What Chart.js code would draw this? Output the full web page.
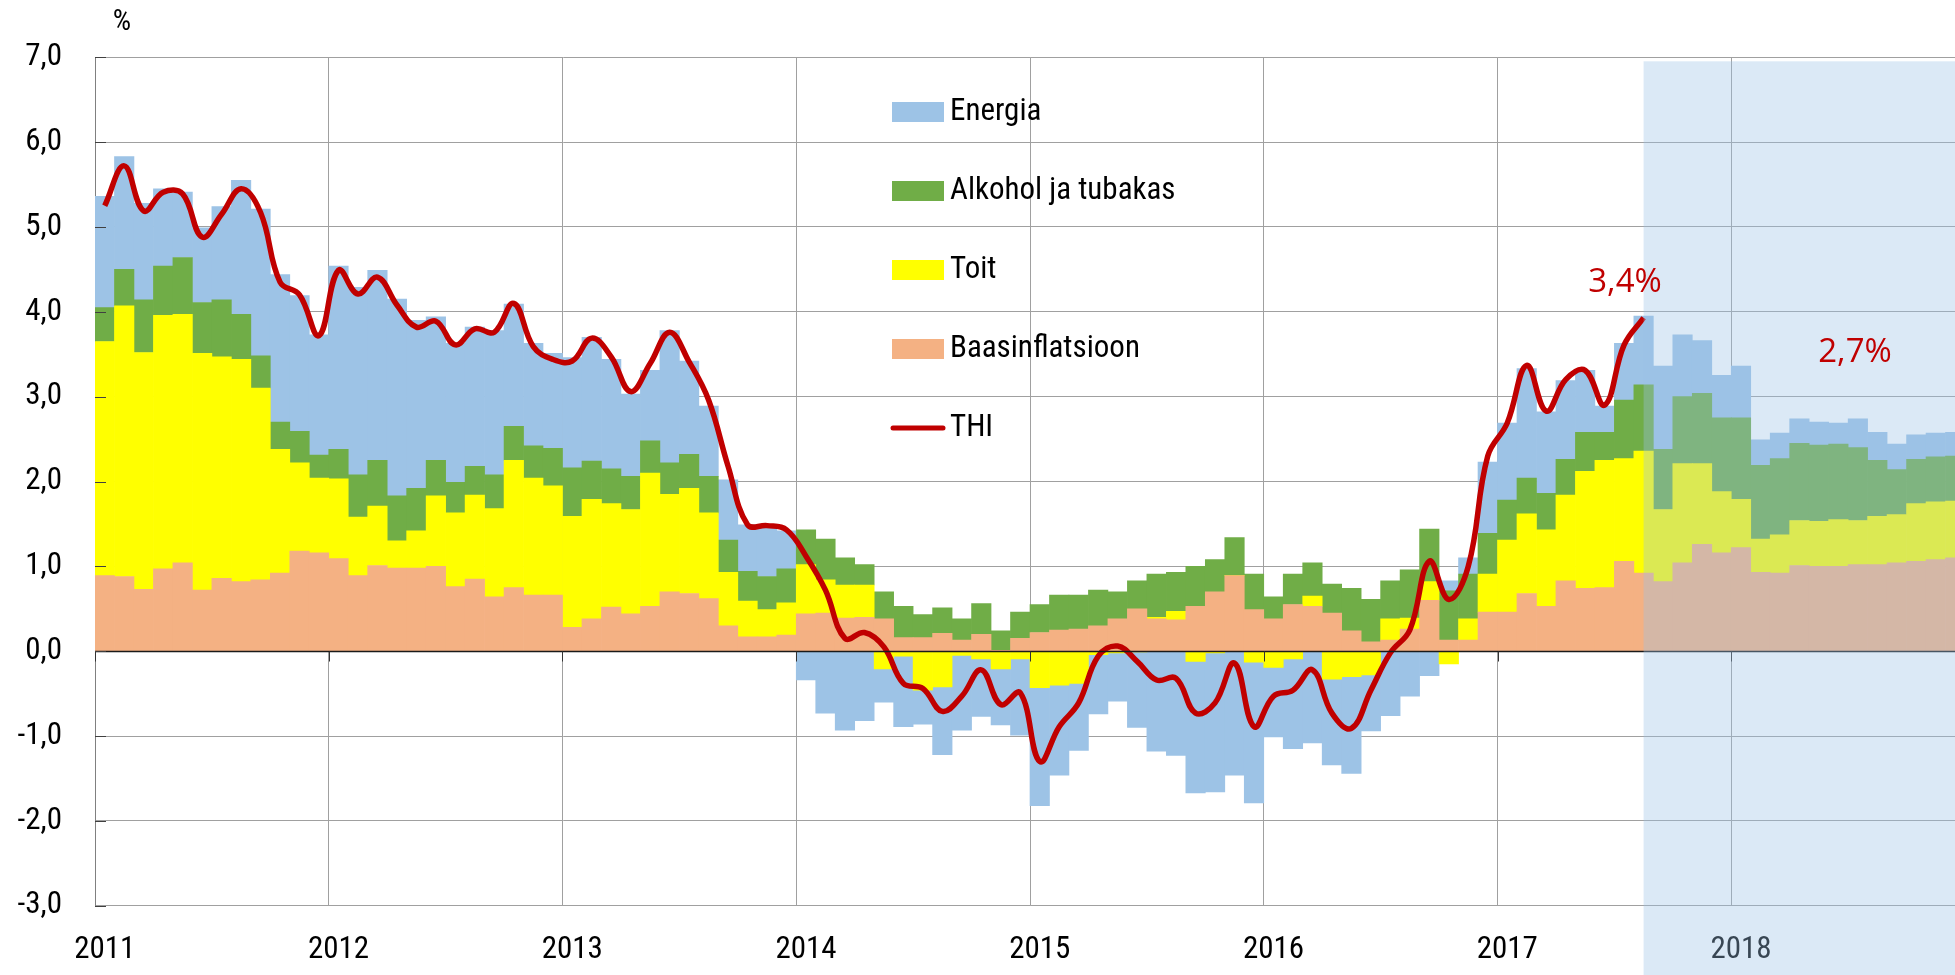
<!DOCTYPE html>
<html>
<head>
<meta charset="utf-8">
<script src="https://cdn.jsdelivr.net/npm/chart.js@4.4.1/dist/chart.umd.min.js"></script>
<style>
html{margin:0;padding:0;overflow:hidden;background:#fff;width:1955px;height:975px}
body{margin:0;padding:0;background:#fff;width:1965px;height:975px;overflow:visible}
#wrap{width:1965px;height:975px;position:relative}
canvas{display:block;width:1965px;height:975px}
</style>
</head>
<body>
<div id="wrap"><canvas id="c" width="1965" height="975" style="width:1965px;height:975px"></canvas></div>
<script>
// ---------- data ----------
const monthNames = ['Jan','Feb','Mar','Apr','May','Jun','Jul','Aug','Sep','Oct','Nov','Dec'];
const years = ['2011','2012','2013','2014','2015','2016','2017','2018'];
const yTickLabels = ['-3,0','-2,0','-1,0','0,0','1,0','2,0','3,0','4,0','5,0','6,0','7,0'];
const seriesNames = ['Energia','Alkohol ja tubakas','Toit','Baasinflatsioon','THI'];
const unitLabel = '%';
const annotationTexts = ['3,4%','2,7%'];

const energia = [
  1.31,1.33,1.14,0.91,0.77,0.88,1.10,1.58,1.73,1.74,1.60,1.42,
  2.16,2.21,2.24,2.32,1.98,1.69,1.64,1.64,1.70,1.44,1.21,1.12,
  1.30,1.46,1.29,0.97,0.83,1.56,1.10,0.83,0.71,0.55,0.61,0.45,
  -0.34,-0.73,-0.93,-0.82,-0.39,-0.83,-0.40,-0.80,-0.88,-0.68,-0.66,-0.90,
  -1.39,-1.06,-0.79,-0.70,-0.57,-0.89,-1.18,-1.23,-1.55,-1.64,-1.46,-1.66,
  -0.82,-1.06,-1.08,-1.01,-1.14,-0.66,-0.76,-0.53,-0.29,0.12,0.19,0.84,
  0.91,1.29,0.96,0.93,0.73,0.31,0.67,0.81,0.98,0.73,0.62,0.50,
  0.61,0.30,0.30,0.29,0.27,0.25,0.34,0.33,0.30,0.29,0.28,0.28
];
const alkohol = [
  0.40,0.43,0.62,0.58,0.67,0.60,0.67,0.53,0.38,0.32,0.37,0.27,
  0.35,0.50,0.54,0.53,0.50,0.42,0.36,0.34,0.40,0.40,0.38,0.44,
  0.57,0.45,0.41,0.39,0.38,0.37,0.40,0.43,0.38,0.35,0.39,0.40,
  0.41,0.48,0.32,0.24,0.32,0.37,0.27,0.30,0.25,0.36,0.23,0.31,
  0.33,0.41,0.40,0.42,0.32,0.33,0.51,0.46,0.47,0.38,0.45,0.42,
  0.26,0.36,0.39,0.34,0.50,0.50,0.45,0.57,0.62,0.58,0.53,0.48,
  0.47,0.42,0.43,0.42,0.46,0.33,0.69,0.78,0.71,0.79,0.83,0.87,
  0.96,0.87,0.90,0.91,0.90,0.89,0.86,0.66,0.53,0.52,0.53,0.53
];
const toit = [
  2.76,3.19,2.79,2.99,2.93,2.79,2.61,2.62,2.26,1.46,1.04,0.88,
  0.94,0.69,0.70,0.32,0.44,0.83,0.87,0.99,1.04,1.50,1.38,1.29,
  1.31,1.41,1.22,1.23,1.57,1.15,1.24,1.01,0.63,0.42,0.32,0.38,
  0.58,0.39,0.39,0.38,-0.21,-0.06,-0.46,-0.42,-0.05,-0.09,-0.21,-0.09,
  -0.43,-0.40,-0.38,-0.04,-0.02,-0.01,0.02,0.10,-0.12,-0.02,0.00,-0.13,
  -0.19,-0.09,0.12,-0.33,-0.30,-0.28,0.25,0.13,0.22,-0.15,0.25,0.45,
  0.85,0.94,0.90,1.01,1.38,1.50,1.21,1.44,0.85,1.17,0.95,0.72,
  0.57,0.39,0.45,0.53,0.53,0.55,0.52,0.57,0.57,0.68,0.68,0.67
];
const baas = [
  0.89,0.88,0.73,0.97,1.04,0.72,0.86,0.82,0.84,0.92,1.18,1.16,
  1.09,0.89,1.01,0.98,0.98,1.00,0.76,0.85,0.64,0.75,0.66,0.66,
  0.28,0.38,0.52,0.44,0.53,0.70,0.68,0.62,0.30,0.17,0.17,0.19,
  0.44,0.45,0.39,0.40,0.38,0.16,0.16,0.21,0.13,0.20,0.01,0.15,
  0.22,0.25,0.26,0.30,0.38,0.50,0.38,0.37,0.53,0.70,0.89,0.49,
  0.38,0.55,0.53,0.45,0.24,0.11,0.13,0.26,0.60,0.13,0.13,0.46,
  0.46,0.68,0.53,0.83,0.74,0.75,1.06,0.92,0.82,1.04,1.26,1.16,
  1.22,0.93,0.92,1.01,1.00,1.00,1.02,1.02,1.04,1.06,1.08,1.10
];
const thi = [
  5.25,5.72,5.19,5.41,5.39,4.88,5.15,5.45,5.17,4.35,4.20,3.72,
  4.49,4.21,4.41,4.08,3.82,3.89,3.61,3.80,3.76,4.10,3.59,3.44,
  3.42,3.69,3.47,3.06,3.39,3.76,3.41,2.96,2.18,1.49,1.48,1.43,
  1.12,0.72,0.15,0.22,0.05,-0.38,-0.44,-0.71,-0.53,-0.22,-0.63,-0.49,
  -1.30,-0.89,-0.61,-0.06,0.06,-0.12,-0.34,-0.32,-0.73,-0.61,-0.14,-0.89,
  -0.53,-0.46,-0.22,-0.73,-0.91,-0.46,-0.02,0.25,1.06,0.61,1.00,2.30,
  2.69,3.37,2.83,3.20,3.31,2.90,3.61,3.93
];

// ---------- helpers ----------
const categories = years.flatMap(y => monthNames.map(m => m + ' ' + y));
const FONT = '"Roboto Condensed", "Liberation Sans Narrow", Roboto, sans-serif';
const forecastStart = thi.length - 1; // centre of the last actual month

const decorPlugin = {
  id: 'decor',
  afterDatasetsDraw(chart) {
    const {ctx, chartArea: a, scales: {x, y}} = chart;
    ctx.save();
    const y0 = Math.round(y.getPixelForValue(0)) + 0.5;
    ctx.strokeStyle = '#1a1a1a';
    ctx.lineWidth = 1.3;
    ctx.beginPath(); ctx.moveTo(a.left, y0); ctx.lineTo(a.right, y0); ctx.stroke();
    ctx.lineWidth = 1;
    ctx.strokeStyle = '#333';
    const half = (x.getPixelForValue(1) - x.getPixelForValue(0)) / 2;
    for (let i = 0; i < categories.length; i += 12) {
      const px = Math.round(x.getPixelForValue(i) - half) + 0.5;
      ctx.beginPath(); ctx.moveTo(px, y0); ctx.lineTo(px, y0 + 10); ctx.stroke();
    }
    ctx.strokeStyle = '#404040';
    y.ticks.forEach(t => {
      const py = Math.round(y.getPixelForValue(t.value)) + 0.5;
      ctx.beginPath(); ctx.moveTo(a.left, py); ctx.lineTo(a.left + 11, py); ctx.stroke();
    });
    ctx.restore();
  },
  afterDraw(chart) {
    const {ctx, chartArea: a, scales: {x, y}} = chart;
    ctx.save();
    const fx = x.getPixelForValue(forecastStart);
    ctx.fillStyle = 'rgba(155,194,230,0.36)';
    ctx.fillRect(fx, a.top + 4, chart.width - fx, chart.height - a.top - 4);

    ctx.fillStyle = '#000';
    ctx.font = '29px ' + FONT;
    ctx.textAlign = 'center';
    ctx.textBaseline = 'middle';
    ctx.fillText(unitLabel, 122, 23);

    ctx.fillStyle = '#C00000';
    ctx.font = '33px "Open Sans", sans-serif';
    ctx.textAlign = 'center';
    ctx.fillText(annotationTexts[0], 1625, 283);
    ctx.fillText(annotationTexts[1], 1855, 353);

    const order = [4, 3, 2, 1, 0];
    const rowY = [112, 191, 270, 349, 428];
    ctx.font = '31px ' + FONT;
    ctx.textAlign = 'left';
    order.forEach((di, k) => {
      const ds = chart.data.datasets[di];
      const cy = rowY[k];
      if (ds.type === 'line') {
        ctx.strokeStyle = ds.borderColor;
        ctx.lineWidth = 5;
        ctx.lineCap = 'round';
        ctx.beginPath(); ctx.moveTo(893, cy); ctx.lineTo(943, cy); ctx.stroke();
      } else {
        ctx.fillStyle = ds.backgroundColor;
        ctx.fillRect(892, cy - 10, 52, 20);
      }
      ctx.fillStyle = '#000';
      ctx.fillText(ds.label, 950, cy);
    });
    ctx.restore();
  }
};

new Chart(document.getElementById('c'), {
  type: 'bar',
  data: {
    labels: categories,
    datasets: [
      {type: 'line', label: seriesNames[4], data: thi, borderColor: '#C00000', borderWidth: 5.5,
       pointRadius: 0, tension: 0.4, fill: false, stack: 'thi', order: 0, borderCapStyle: 'butt'},
      {type: 'bar', label: seriesNames[3], data: baas, backgroundColor: '#F4B183', stack: 'c', order: 1},
      {type: 'bar', label: seriesNames[2], data: toit, backgroundColor: '#FFFF00', stack: 'c', order: 1},
      {type: 'bar', label: seriesNames[1], data: alkohol, backgroundColor: '#70AD47', stack: 'c', order: 1},
      {type: 'bar', label: seriesNames[0], data: energia, backgroundColor: '#9DC3E6', stack: 'c', order: 1}
    ]
  },
  options: {
    responsive: false,
    maintainAspectRatio: false,
    animation: false,
    devicePixelRatio: 1,
    layout: {padding: {top: 57.3, left: 0, right: 0, bottom: 0}},
    plugins: {legend: {display: false}, tooltip: {enabled: false}},
    datasets: {bar: {barPercentage: 1, categoryPercentage: 1, borderWidth: 0}},
    scales: {
      x: {
        stacked: true,
        offset: true,
        grid: {
          offset: true,
          drawTicks: false,
          lineWidth: 1,
          color: c => (c.index !== undefined && c.index % 12 === 0 && c.index > 0) ? '#a0a0a0' : 'rgba(0,0,0,0)'
        },
        border: {display: true, color: '#a0a0a0'},
        ticks: {
          autoSkip: false, maxRotation: 0, minRotation: 0, padding: 26,
          color: '#000', font: {family: FONT, size: 31},
          callback: (v, i) => (i % 12 === 0 ? years[i / 12] : '')
        },
        afterFit: s => { s.height = 69.3; s.paddingLeft = 0; s.paddingRight = 0; }
      },
      y: {
        stacked: true,
        min: -3, max: 7,
        grid: {drawTicks: false, color: '#a0a0a0', lineWidth: 1},
        border: {display: true, color: '#808080'},
        ticks: {
          stepSize: 1, padding: 33, color: '#000', font: {family: FONT, size: 31},
          callback: (v, i) => yTickLabels[i]
        },
        afterFit: s => { s.width = 95; }
      }
    }
  },
  plugins: [decorPlugin]
});
</script>
</body>
</html>
